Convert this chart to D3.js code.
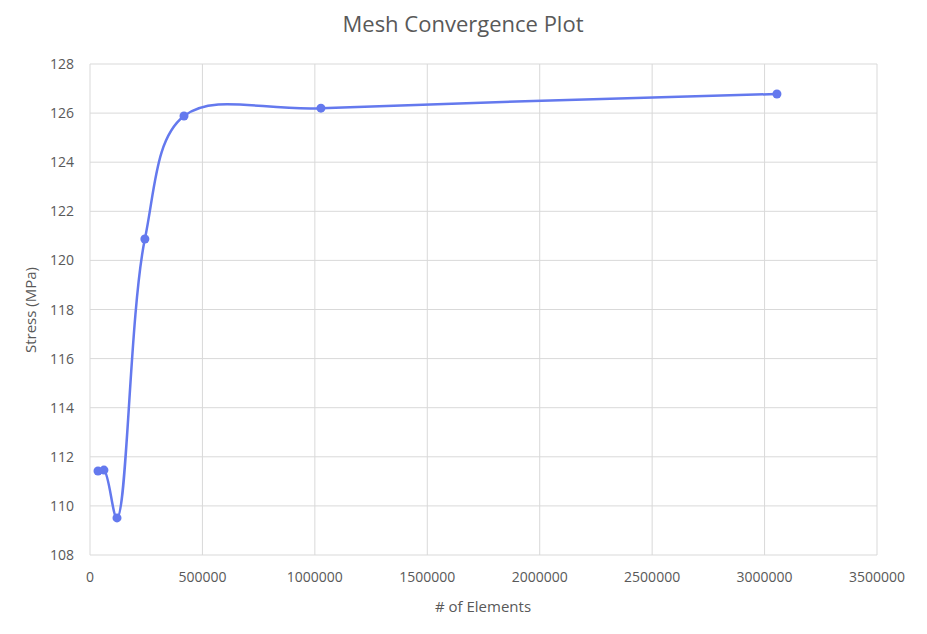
<!DOCTYPE html>
<html><head><meta charset="utf-8">
<script src="https://cdn.jsdelivr.net/npm/d3@7"></script>
<style>body{margin:0;background:#fff;font-family:"Open Sans",Roboto,sans-serif;}</style>
</head><body><div id="chart"></div>
<script>
// data
var elements = [35600, 62000, 120000, 244000, 418000, 1027000, 3055000];
var stress = [111.42, 111.46, 109.51, 120.87, 125.88, 126.20, 126.78];
var xTicks = [0, 500000, 1000000, 1500000, 2000000, 2500000, 3000000, 3500000];
var yTicks = [108, 110, 112, 114, 116, 118, 120, 122, 124, 126, 128];

var width = 927, height = 634;
var svg = d3.select('#chart').append('svg').attr('width', width).attr('height', height);

var x = d3.scaleLinear().domain([0, 3500000]).range([90, 877]);
var y = d3.scaleLinear().domain([108, 128]).range([555, 64]);

// grid
svg.append('g').selectAll('line.h').data(yTicks).enter().append('line')
  .attr('x1', 90).attr('x2', 877)
  .attr('y1', function(d) { return y(d); }).attr('y2', function(d) { return y(d); })
  .attr('stroke', '#d9d9d9');
svg.append('g').selectAll('line.v').data(xTicks).enter().append('line')
  .attr('y1', 64).attr('y2', 555)
  .attr('x1', function(d) { return x(d); }).attr('x2', function(d) { return x(d); })
  .attr('stroke', '#d9d9d9');

// tick labels
svg.append('g').selectAll('text').data(yTicks).enter().append('text')
  .attr('x', 74).attr('y', function(d) { return y(d) + 5; })
  .attr('text-anchor', 'end').style('font-size', '14px').attr('fill', '#595959')
  .text(function(d) { return d; });
svg.append('g').selectAll('text').data(xTicks).enter().append('text')
  .attr('x', function(d) { return x(d); }).attr('y', 582)
  .attr('text-anchor', 'middle').style('font-size', '14px').attr('fill', '#595959')
  .text(function(d) { return d; });

// line
var pts = elements.map(function(d, i) { return [d, stress[i]]; });
var line = d3.line()
  .x(function(d) { return x(d[0]); })
  .y(function(d) { return y(d[1]); })
  .curve(d3.curveCatmullRom.alpha(0.5));
svg.append('path').datum(pts).attr('d', line)
  .attr('fill', 'none').attr('stroke', '#6479ee').attr('stroke-width', 2.5);
svg.append('g').selectAll('circle').data(pts).enter().append('circle')
  .attr('cx', function(d) { return x(d[0]); }).attr('cy', function(d) { return y(d[1]); })
  .attr('r', 4.5).attr('fill', '#6479ee');

// titles
svg.append('text').attr('x', 463).attr('y', 32).attr('text-anchor', 'middle')
  .style('font-size', '22px').attr('fill', '#595959').text('Mesh Convergence Plot');
svg.append('text').attr('x', 483).attr('y', 612).attr('text-anchor', 'middle')
  .style('font-size', '15px').attr('fill', '#595959').text('# of Elements');
svg.append('text').attr('transform', 'translate(36,310) rotate(-90)').attr('text-anchor', 'middle')
  .style('font-size', '15px').attr('fill', '#595959').text('Stress (MPa)');
</script></body></html>
